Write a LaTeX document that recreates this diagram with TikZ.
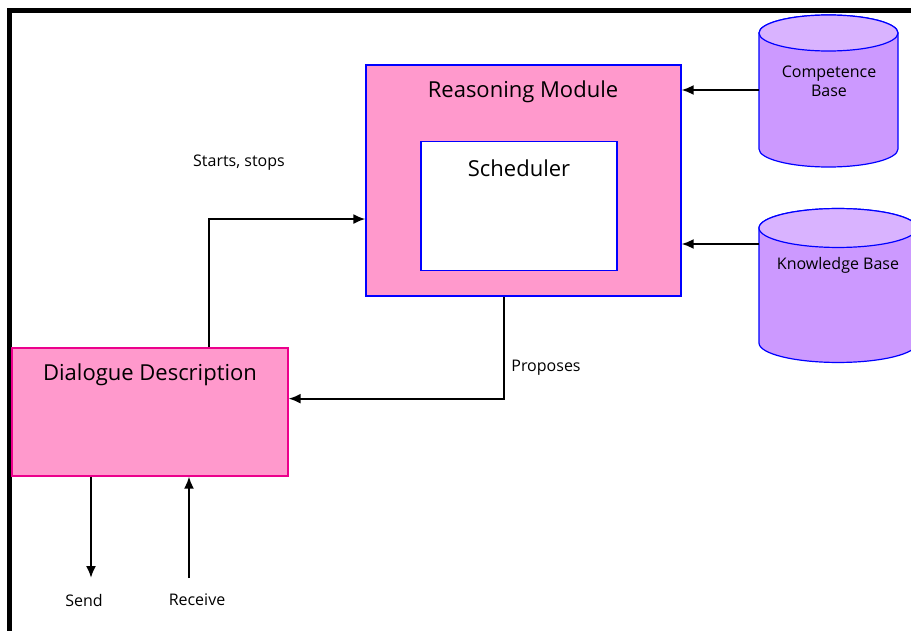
\documentclass[tikz,border=0pt]{standalone}
\usepackage{fontspec}
\setmainfont{Open Sans}
\usetikzlibrary{arrows.meta,positioning}
\definecolor{modpink}{HTML}{FF99CC}
\definecolor{baselilac}{HTML}{CC99FF}
\definecolor{baselid}{HTML}{D9B3FF}
\tikzset{
  module/.style={rectangle,draw=blue,fill=modpink,line width=0.9pt,inner sep=0pt},
  innerbox/.style={rectangle,draw=blue,fill=white,line width=0.9pt,inner sep=0pt},
  dialogbox/.style={rectangle,draw=magenta,fill=modpink,line width=0.9pt,inner sep=0pt},
  drum/.style={draw=blue,line width=0.9pt,fill=baselilac},
  drumlid/.style={draw=blue,line width=0.9pt,fill=baselid},
  title/.style={font=\fontsize{16.5}{19}\selectfont},
  lbl/.style={font=\fontsize{12}{14}\selectfont,align=center},
  flow/.style={-{Latex[length=9pt,width=7.5pt]},line width=1.5pt}
}
\begin{document}
\begin{tikzpicture}[x=0.75pt,y=-0.75pt]
  \useasboundingbox (0,0) rectangle (911,631);
  \draw[line width=3.75pt] (9.5,660) |- (940,10.5);

  % boxes
  \node[module,minimum width=236.25pt,minimum height=173.25pt] (rm) at (523.5,180.5) {};
  \node[title] (rmtitle) at (523,92) {Reasoning Module};
  \node[innerbox,minimum width=147pt,minimum height=96.75pt] (sch) at (519,206) {};
  \node[title] (schtitle) at (519,168) {Scheduler};
  \node[dialogbox,minimum width=207pt,minimum height=96pt] (dd) at (150,412) {};
  \node[title] (ddtitle) at (150,375) {Dialogue Description};

  % stores
  \draw[drum] (759,33) -- (759,149)
    arc[start angle=180,end angle=360,x radius=52.125pt,y radius=13.5pt]
    -- (898,33) arc[start angle=0,end angle=180,x radius=52.125pt,y radius=13.5pt] -- cycle;
  \draw[drumlid] (828.5,33) ellipse [x radius=52.125pt,y radius=13.5pt];
  \node[lbl] (comptext) at (829,81) {Competence\\Base};
  \draw[drum] (759,228) -- (759,343)
    arc[start angle=180,end angle=360,x radius=59.25pt,y radius=14.6pt]
    -- (917,228) arc[start angle=0,end angle=180,x radius=59.25pt,y radius=14.6pt] -- cycle;
  \draw[drumlid] (838,228) ellipse [x radius=59.25pt,y radius=14.6pt];
  \node[lbl] (kbtext) at (838,265) {Knowledge Base};

  % labels
  \node[lbl] (starts) at (239,163) {Starts, stops};
  \node[lbl] (proposes) at (546,368) {Proposes};
  \node[lbl] (send) at (84,600) {Send};
  \node[lbl] (receive) at (197,600) {Receive};

  % ports
  \coordinate (compport) at (759,90);
  \coordinate (kbport) at (759,244);
  \coordinate (ddtop) at ([xshift=44.25pt]dd.north);
  \coordinate (rmbottom) at ([xshift=-14.6pt]rm.south);
  \coordinate (sendend) at (91,578);
  \coordinate (recvstart) at (189,578);

  \draw[flow] (compport) -- (compport -| rm.east);
  \draw[flow] (kbport) -- (kbport -| rm.east);
  \draw[flow] (ddtop) |- ([yshift=-28.9pt]rm.west);
  \draw[flow] (rmbottom) |- ([yshift=10pt]dd.east);
  \draw[flow] (sendend |- dd.south) -- (sendend);
  \draw[flow] (recvstart) -- (recvstart |- dd.south);
\end{tikzpicture}
\end{document}
